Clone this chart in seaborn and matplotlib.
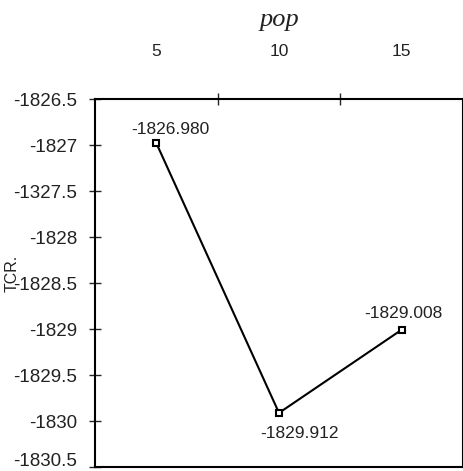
import matplotlib
matplotlib.use("Agg")
import matplotlib.pyplot as plt
import matplotlib.transforms as mtransforms
import seaborn as sns
import pandas as pd

# Population sizes and the TCR value reached for each
pop_sizes = ["5", "10", "15"]
tcr_values = [-1826.980, -1829.912, -1829.008]

# Y tick positions and their printed labels
y_ticks = [-1826.5, -1827, -1827.5, -1828, -1828.5, -1829, -1829.5, -1830, -1830.5]
y_tick_labels = ["-1826.5", "-1827", "-1327.5", "-1828", "-1828.5",
                 "-1829", "-1829.5", "-1830", "-1830.5"]

df = pd.DataFrame({"pop": pop_sizes, "TCR": tcr_values})

sns.set_style("white")
plt.rcParams["font.family"] = ["Liberation Sans", "DejaVu Sans"]
FS = 12.5

fig = plt.figure(figsize=(4.64, 4.71), dpi=100)
ax = fig.add_axes([95 / 464, 4 / 471, 368 / 464, 368 / 471])

sns.pointplot(data=df, x="pop", y="TCR", order=pop_sizes, ax=ax,
              color="black", markers="s", linestyles="-",
              markersize=5, markerfacecolor="white", markeredgewidth=1.5,
              linewidth=1.5, errorbar=None)

ax.set_xlim(-0.5, 2.5)
ax.set_ylim(-1830.5, -1826.5)

# Value labels next to each point
offsets = [(10, 10), (14.5, -15), (1, 12)]
for i, (v, off) in enumerate(zip(tcr_values, offsets)):
    ax.annotate(f"{v:.3f}", (i, v), xytext=off, textcoords="offset points",
                ha="center", va="center", fontsize=FS, color="#222222")

# Category axis on top: labels at centres, ticks on the boundaries
ax.xaxis.tick_top()
ax.xaxis.set_label_position("top")
ax.set_xticks([0, 1, 2])
ax.set_xticklabels(pop_sizes)
ax.set_xticks([0.5, 1.5], minor=True)
ax.tick_params(axis="x", which="major", length=0, pad=29, labelsize=FS,
               labelcolor="#222222")
ax.tick_params(axis="x", which="minor", top=True, bottom=False,
               direction="inout", length=8, width=1)
ax.set_xlabel("pop", fontsize=19, fontstyle="italic", color="#222222",
              family=["Liberation Serif", "DejaVu Serif"], labelpad=13)

ax.set_yticks(y_ticks)
ax.set_yticklabels(y_tick_labels)
ax.tick_params(axis="y", which="major", left=True, direction="inout",
               length=8, width=1, pad=9, labelsize=13.5, labelcolor="#222222")
# keep the lowest tick label inside the figure
lift = mtransforms.ScaledTranslation(0, 8 / 100, fig.dpi_scale_trans)
low = ax.get_yticklabels()[-1]
low.set_transform(low.get_transform() + lift)

ax.set_ylabel("TCR.", fontsize=11.5, color="#222222")
ax.yaxis.set_label_coords(-0.205, 0.525)

for s in ax.spines.values():
    s.set_visible(True)
    s.set_color("black")
    s.set_linewidth(1.5)

fig.savefig("out.png", dpi=100)
